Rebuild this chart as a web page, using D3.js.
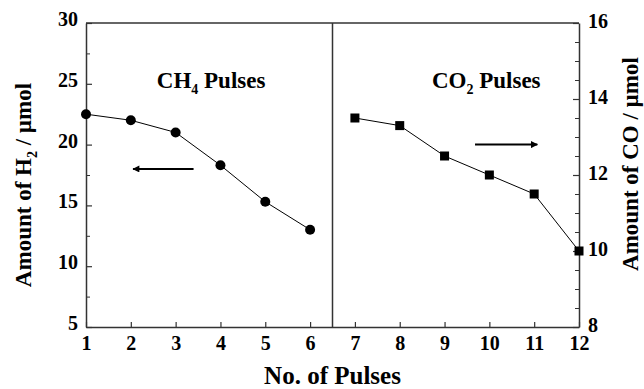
<!DOCTYPE html>
<html>
<head>
<meta charset="utf-8">
<script src="https://cdn.jsdelivr.net/npm/d3@7"></script>
<style>
  body { margin: 0; background: #fff; }
  text { font-family: "Liberation Serif", "Times New Roman", serif; font-weight: bold; fill: #000; }
</style>
</head>
<body>
<svg id="chart" width="644" height="389"></svg>
<script>
// pulse numbers and measured amounts
const ch4Pulses = [1, 2, 3, 4, 5, 6];
const h2Amount = [22.5, 22.0, 21.0, 18.3, 15.3, 13.0];
const co2Pulses = [7, 8, 9, 10, 11, 12];
const coAmount = [13.5, 13.3, 12.5, 12.0, 11.5, 10.0];

const xTicks = [1, 2, 3, 4, 5, 6, 7, 8, 9, 10, 11, 12];
const leftTicks = [5, 10, 15, 20, 25, 30];
const leftMinor = [7.5, 12.5, 17.5, 22.5, 27.5];
const rightTicks = [8, 10, 12, 14, 16];
const rightMinor = [8.5, 9, 9.5, 10.5, 11, 11.5, 12.5, 13, 13.5, 14.5, 15, 15.5];

const M = { left: 86, top: 23, right: 65, bottom: 62 };
const W = 644 - M.left - M.right;
const H = 389 - M.top - M.bottom;
const axisColor = "#333";

const svg = d3.select("#chart");
const g = svg.append("g").attr("transform", `translate(${M.left},${M.top})`);

const x = d3.scaleLinear().domain([1, 12]).range([0, W]);
const yL = d3.scaleLinear().domain([5, 30]).range([H, 0]);
const yR = d3.scaleLinear().domain([8, 16]).range([H, 0]);

// frame
g.append("line").attr("x1", 0).attr("x2", W).attr("y1", 0).attr("y2", 0)
  .attr("stroke", axisColor).attr("stroke-width", 1.5);
g.append("line").attr("x1", x(6.5)).attr("x2", x(6.5)).attr("y1", 0).attr("y2", H)
  .attr("stroke", axisColor).attr("stroke-width", 1.5);

function styleAxis(sel) {
  sel.select(".domain").attr("stroke", axisColor).attr("stroke-width", 1.5);
  sel.selectAll(".tick line").attr("stroke", axisColor).attr("stroke-width", 1.2);
  sel.selectAll(".tick text").style("font-size", "20px");
}

// minor ticks first so majors sit on top
g.append("g").call(d3.axisLeft(yL).tickValues(leftMinor).tickSize(-4).tickFormat(""))
  .call(s => { s.select(".domain").remove(); s.selectAll("line").attr("stroke", axisColor); });
g.append("g").attr("transform", `translate(${W},0)`)
  .call(d3.axisRight(yR).tickValues(rightMinor).tickSize(-4).tickFormat(""))
  .call(s => { s.select(".domain").remove(); s.selectAll("line").attr("stroke", axisColor); });

g.append("g").attr("transform", `translate(0,${H})`)
  .call(d3.axisBottom(x).tickValues(xTicks).tickSize(-5).tickPadding(9).tickSizeOuter(0))
  .call(styleAxis);

g.append("g")
  .call(d3.axisLeft(yL).tickValues(leftTicks).tickSize(-6).tickPadding(8).tickSizeOuter(0))
  .call(styleAxis)
  .call(s => s.selectAll(".tick text").attr("dy", "0.12em"));

g.append("g").attr("transform", `translate(${W},0)`)
  .call(d3.axisRight(yR).tickValues(rightTicks).tickSize(-6).tickPadding(9).tickSizeOuter(0))
  .call(styleAxis)
  .call(s => s.selectAll(".tick text").attr("dy", "0.2em"));

// H2 series (left axis)
const h2 = ch4Pulses.map((p, i) => ({ p, v: h2Amount[i] }));
const co = co2Pulses.map((p, i) => ({ p, v: coAmount[i] }));

g.append("path").datum(h2)
  .attr("fill", "none").attr("stroke", "#000").attr("stroke-width", 1)
  .attr("d", d3.line().x(d => x(d.p)).y(d => yL(d.v)));
g.selectAll(".h2pt").data(h2).enter().append("circle")
  .attr("class", "h2pt")
  .attr("cx", d => x(d.p)).attr("cy", d => yL(d.v)).attr("r", 5)
  .attr("fill", "#000");

// CO series (right axis)
g.append("path").datum(co)
  .attr("fill", "none").attr("stroke", "#000").attr("stroke-width", 1)
  .attr("d", d3.line().x(d => x(d.p)).y(d => yR(d.v)));
g.selectAll(".copt").data(co).enter().append("rect")
  .attr("class", "copt")
  .attr("x", d => x(d.p) - 4.5).attr("y", d => yR(d.v) - 4.5)
  .attr("width", 9).attr("height", 9)
  .attr("fill", "#000");

// arrows
svg.append("defs").append("marker")
  .attr("id", "head").attr("viewBox", "0 0 10 10")
  .attr("refX", 9).attr("refY", 5)
  .attr("markerWidth", 4).attr("markerHeight", 3.5)
  .attr("orient", "auto")
  .append("path").attr("d", "M0,0 L10,5 L0,10 Z").attr("fill", "#000");

g.append("line")
  .attr("x1", x(3.4)).attr("x2", x(2.05)).attr("y1", yL(18)).attr("y2", yL(18))
  .attr("stroke", "#000").attr("stroke-width", 2).attr("marker-end", "url(#head)");
g.append("line")
  .attr("x1", x(9.68)).attr("x2", x(11.07)).attr("y1", yR(12.8)).attr("y2", yR(12.8))
  .attr("stroke", "#000").attr("stroke-width", 2).attr("marker-end", "url(#head)");

// labels with a subscript
function chemLabel(parent, xPos, yPos, main, sub, rest, size) {
  const t = parent.append("text").attr("x", xPos).attr("y", yPos).style("font-size", size + "px");
  t.append("tspan").text(main);
  t.append("tspan").text(sub).style("font-size", Math.round(size * 0.62) + "px").attr("dy", size * 0.25);
  t.append("tspan").text(rest).attr("dy", -size * 0.25);
  return t;
}
chemLabel(g, x(2.58), 65, "CH", "4", " Pulses", 23);
chemLabel(g, x(8.72), 65, "CO", "2", " Pulses", 23);

// axis titles
chemLabel(svg, 0, 0, "Amount of H", "2", " / \u00b5mol", 23)
  .attr("text-anchor", "middle")
  .attr("transform", "translate(31,185) rotate(-90)");
svg.append("text")
  .attr("text-anchor", "middle")
  .attr("transform", "translate(638,164) rotate(-90)")
  .style("font-size", "23px")
  .text("Amount of CO / \u00b5mol");
svg.append("text")
  .attr("x", M.left + x(6.5)).attr("y", 384)
  .attr("text-anchor", "middle")
  .style("font-size", "25px")
  .text("No. of Pulses");
</script>
</body>
</html>
